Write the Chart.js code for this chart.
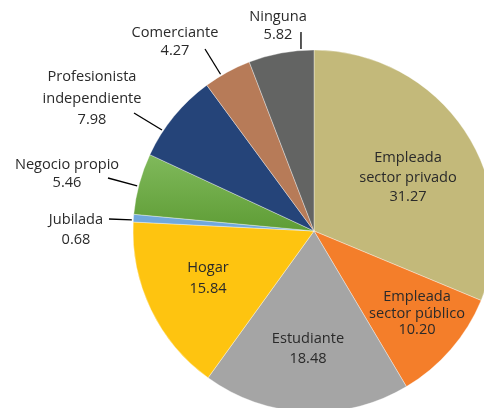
<!DOCTYPE html>
<html>
<head>
<meta charset="utf-8">
<script src="https://cdn.jsdelivr.net/npm/chart.js@4.4.1/dist/chart.umd.min.js"></script>
<style>
  html, body { margin: 0; padding: 0; background: #fff; overflow: hidden; }
  #wrap { position: absolute; left: 0; top: 0; width: 628px; height: 462px; }
</style>
</head>
<body>
<div id="wrap"><canvas id="ocupacion" width="628" height="462"></canvas></div>
<script>
// categories and values (percent)
const categorias = [
  ["Empleada", "sector privado"],
  ["Empleada", "sector público"],
  ["Estudiante"],
  ["Hogar"],
  ["Jubilada"],
  ["Negocio propio"],
  ["Profesionista", "independiente"],
  ["Comerciante"],
  ["Ninguna"]
];
const porcentajes = [31.27, 10.20, 18.48, 15.84, 0.68, 5.46, 7.98, 4.27, 5.82];
const colores = ["#c3b97a", "#f47e2a", "#a5a5a5", "#fec410", "#70a8dd", "green", "#254479", "#b77b58", "#636463"];

// label layout: text block center x, first line y, line height; optional leader (angle on arc, outer end)
const layout = [
  { x: 408, y: 158, lh: 19.5 },
  { x: 417, y: 297, lh: 16.5 },
  { x: 308, y: 339, lh: 20 },
  { x: 208, y: 268, lh: 21 },
  { x: 76, y: 220, lh: 20, leader: { a: 273.5, end: [109, 219] } },
  { x: 67, y: 165, lh: 18, leader: { a: 284.3, end: [108, 178] } },
  { x: 92, y: 77, lh: 21.5, leader: { a: 303.6, end: [134, 113] } },
  { x: 175, y: 33, lh: 18, leader: { a: 329.2, end: [205, 49] } },
  { x: 278, y: 17, lh: 18, leader: { a: 355.9, end: [301, 32] } }
];

const etiquetas = {
  id: "etiquetas",
  afterDatasetsDraw(chart) {
    const ctx = chart.ctx;
    const meta = chart.getDatasetMeta(0);
    ctx.save();
    ctx.font = "14.6px 'Open Sans', sans-serif";
    ctx.fillStyle = "#2a2a2a";
    ctx.textAlign = "center";
    ctx.textBaseline = "middle";
    ctx.strokeStyle = "#000";
    ctx.lineWidth = 1.3;
    meta.data.forEach((arc, i) => {
      const l = layout[i];
      const lines = categorias[i].concat([porcentajes[i].toFixed(2)]);
      lines.forEach((t, k) => ctx.fillText(t, l.x, l.y + k * l.lh));
      if (l.leader) {
        const a = l.leader.a * Math.PI / 180;
        const r = arc.outerRadius + 1.5;
        ctx.beginPath();
        ctx.moveTo(arc.x + r * Math.sin(a), arc.y - r * Math.cos(a));
        ctx.lineTo(l.leader.end[0], l.leader.end[1]);
        ctx.stroke();
      }
    });
    ctx.restore();
  }
};

new Chart(document.getElementById("ocupacion"), {
  type: "pie",
  data: {
    labels: categorias.map(c => c.join(" ")),
    datasets: [{
      data: porcentajes,
      radius: 181,
      borderColor: "rgba(255,255,255,0.6)",
      borderWidth: 0.6,
      backgroundColor: (c) => {
        const col = colores[c.dataIndex];
        if (col !== "green") return col;
        const area = c.chart.chartArea;
        if (!area) return "#6aa843";
        const g = c.chart.ctx.createLinearGradient(0, 150, 0, 230);
        g.addColorStop(0, "#82bb5e");
        g.addColorStop(1, "#5f9d36");
        return g;
      }
    }]
  },
  options: {
    responsive: false,
    animation: false,
    layout: { padding: 0 },
    plugins: { legend: { display: false }, tooltip: { enabled: false } }
  },
  plugins: [etiquetas]
});
</script>
</body>
</html>
